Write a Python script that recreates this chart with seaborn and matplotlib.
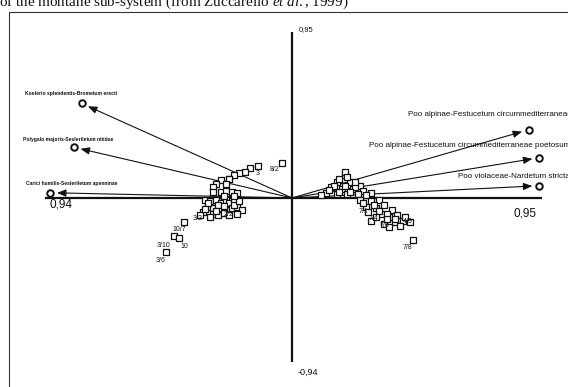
import matplotlib
matplotlib.use('Agg')
import matplotlib.pyplot as plt
import seaborn as sns
import pandas as pd
from matplotlib.patches import Rectangle

# vegetation communities (arrow tips)
communities = [
    'Koelerio splendentis-Brometum erecti',
    'Polygalo majoris-Sesleriletum nitidae',
    'Carici humilis-Sesleriletum apenninae',
    'Poo alpinae-Festucetum circummediterraneae',
    'Poo alpinae-Festucetum circummediterraneae poetosum',
    'Poo violaceae-Nardetum strictae',
]
comm_x = [-0.80, -0.83, -0.92, 0.90, 0.94, 0.94]
comm_y = [0.54, 0.29, 0.03, 0.39, 0.23, 0.07]

# releves (squares)
rel_x = [-0.04, -0.13, -0.16, -0.18, -0.20, -0.22, -0.24, -0.27, -0.29, -0.30, -0.24, -0.25,
         -0.30, -0.27, -0.25, -0.23, -0.21,
         -0.33, -0.31, -0.29, -0.27, -0.25, -0.24, -0.22, -0.32, -0.30, -0.27, -0.25, -0.23,
         -0.30, -0.34, -0.21, -0.19, -0.21, -0.28, -0.35,
         -0.32, -0.28, -0.26, -0.22, -0.20, -0.33, -0.29, -0.26, -0.24, -0.31, -0.26, -0.22,
         -0.41, -0.45, -0.43, -0.48,
         0.20, 0.17, 0.22, 0.26, 0.15, 0.19, 0.23, 0.27, 0.30, 0.13, 0.17, 0.21, 0.24, 0.20,
         0.18, 0.21, 0.16, 0.20, 0.24, 0.14, 0.18, 0.22, 0.25, 0.28, 0.11,
         0.26, 0.30, 0.33, 0.28, 0.32, 0.35, 0.38, 0.34, 0.37, 0.40, 0.42, 0.30, 0.35, 0.39, 0.45,
         0.27, 0.31, 0.29, 0.33, 0.36, 0.32, 0.36, 0.39, 0.41, 0.37, 0.43,
         0.46]
rel_y = [0.20, 0.18, 0.17, 0.15, 0.14, 0.13, 0.11, 0.10, 0.08, 0.06, 0.11, 0.08,
         0.035, 0.035, 0.04, 0.035, 0.03,
         -0.01, -0.02, -0.01, -0.03, -0.01, -0.03, -0.02, -0.05, -0.06, -0.06, -0.07, -0.06,
         -0.09, -0.08, -0.05, -0.07, -0.09, -0.10, -0.10,
         -0.03, -0.04, -0.045, -0.04, -0.02, -0.065, -0.075, -0.085, -0.10, -0.11, 0.01, 0.01,
         -0.14, -0.22, -0.23, -0.31,
         0.13, 0.09, 0.09, 0.07, 0.06, 0.05, 0.05, 0.04, 0.03, 0.03, 0.02, 0.02, 0.06, 0.15,
         0.11, 0.12, 0.07, 0.07, 0.09, 0.045, 0.035, 0.035, 0.025, 0.015, 0.015,
         -0.01, -0.02, -0.01, -0.05, -0.06, -0.04, -0.07, -0.09, -0.11, -0.10, -0.13, -0.13, -0.15, -0.14, -0.14,
         -0.03, -0.04, -0.08, -0.075, -0.09, -0.11, -0.12, -0.12, -0.16, -0.165, -0.11,
         -0.24]

# labelled releves
tag_text = ['8/2', '3', '3/2', '2/2', '10/7', '3/10', '10', '3/6', '7/8', '4/9',
            '7/1', '7/4', '7/6']
tag_x = [-0.065, -0.13, -0.36, -0.24, -0.43, -0.49, -0.41, -0.50, 0.44, 0.44,
         0.27, 0.31, 0.35]
tag_y = [0.16, 0.137, -0.115, -0.095, -0.18, -0.27, -0.275, -0.355, -0.285, -0.137,
         -0.075, -0.115, -0.155]

axis_lo = [-0.94, -0.94]
axis_hi = [0.95, 0.95]

sns.set_theme(style='white')
plt.rcParams['font.family'] = ['Liberation Sans', 'DejaVu Sans']
plt.rcParams['mathtext.fontset'] = 'custom'
plt.rcParams['mathtext.rm'] = 'Liberation Serif'
plt.rcParams['mathtext.it'] = 'Liberation Serif:italic'

ink = '#111111'
fig = plt.figure(figsize=(5.68, 3.87), dpi=100)
ax = fig.add_axes([0, 0, 1, 1])
ax.set_xlim(-1.110, 1.049)
ax.set_ylim(-1.080, 1.131)
ax.axis('off')

# frame of the scanned figure and caption fragment (cut off at the top)
fig.patches.append(Rectangle((9 / 568, -0.5), 2, 0.5 + 1 - 12 / 387, transform=fig.transFigure,
                             fill=False, edgecolor='#333333', lw=0.8))
fig.text(-0.002, 1 - 6 / 387, r'of the montane sub-system (from Zuccarello $et\ al.$, 1999)',
         family='Liberation Serif', fontsize=10.9, va='baseline', color=ink)

# ordination axes
ax.plot([axis_lo[0], axis_hi[0]], [0, 0], color=ink, lw=1.6, solid_capstyle='butt')
ax.plot([0, 0], [axis_lo[1], axis_hi[1]], color=ink, lw=1.6, solid_capstyle='butt')
ax.text(axis_lo[0] + 0.02, -0.04, '0,94', fontsize=8.5, va='center', ha='left', color=ink)
ax.text(axis_hi[0] - 0.11, -0.086, '0,95', fontsize=8.5, va='center', ha='left', color=ink)
ax.text(0.027, axis_hi[1] + 0.01, '0,95', fontsize=5.5, va='center', ha='left', color=ink)
ax.text(0.023, axis_lo[1] - 0.055, '-0,94', fontsize=6.5, va='center', ha='left', color=ink)

# arrows to community centroids
for cx, cy in zip(comm_x, comm_y):
    ax.annotate('', xy=(cx, cy), xytext=(0, 0),
                arrowprops=dict(arrowstyle='-|>,head_length=0.45,head_width=0.18',
                                color=ink, lw=0.8, shrinkA=0, shrinkB=5))

rel = pd.DataFrame({'x': rel_x, 'y': rel_y})
sns.scatterplot(data=rel, x='x', y='y', marker='s', s=16, facecolor='white',
                edgecolor=ink, linewidth=0.9, ax=ax, zorder=4)

comm = pd.DataFrame({'x': comm_x, 'y': comm_y, 'name': communities})
sns.scatterplot(data=comm, x='x', y='y', marker='o', s=22, facecolor='white',
                edgecolor=ink, linewidth=1.4, ax=ax, zorder=5)

# community names, offset from their circles (pixels)
name_offsets = [(-57, 10), (-51, 8), (-24, 9), (-121, 15), (-170, 12), (-81, 9)]
for i, name in enumerate(communities):
    left = comm_x[i] < 0
    ax.annotate(name, xy=(comm_x[i], comm_y[i]), xytext=name_offsets[i],
                textcoords='offset pixels', ha='left', va='center',
                fontsize=3.6 if left else 5.8, fontweight='bold' if left else 'normal',
                color=ink, annotation_clip=False)

for t, x, y in zip(tag_text, tag_x, tag_y):
    ax.text(x, y, t, fontsize=5, ha='center', va='center', color=ink, zorder=6)

plt.savefig('out.png', dpi=100)
plt.close()
